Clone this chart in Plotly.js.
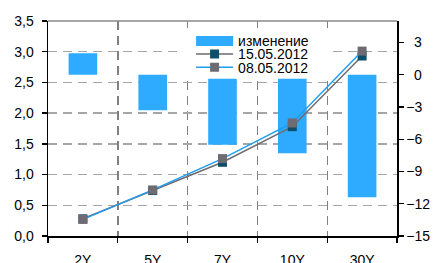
<!DOCTYPE html>
<html>
<head>
<meta charset="utf-8">
<script src="https://cdn.plot.ly/plotly-3.0.1.min.js"></script>
<style>html,body{margin:0;padding:0;background:#fff;}#chart{width:433px;height:263px;}</style>
</head>
<body>
<div id="chart"></div>
<script>
var categories = ['2Y', '5Y', '7Y', '10Y', '30Y'];
var changeBp = [2.0, -3.3, -6.5, -7.3, -11.4];
var yields1505 = [0.28, 0.74, 1.20, 1.78, 2.93];
var yields0805 = [0.27, 0.75, 1.26, 1.84, 3.01];
var rightTickVals = [-15, -12, -9, -6, -3, 0, 3];
var rightTickText = ['\u221215', '\u221212', '\u22129', '\u22126', '\u22123', '\u20070', '\u20073'];
var nameChange = 'изменение';
var name1505 = '15.05.2012';
var name0805 = '08.05.2012';

var FONT = 'Liberation Sans, Arial, Helvetica, sans-serif';
var barBlue = '#2eaaff';
var lineBlue = '#1e9ef0';
var teal = '#0b4f6c';
var gray = '#6f6b72';

var traces = [
  {type: 'bar', x: categories, y: changeBp, yaxis: 'y', width: 0.41,
   marker: {color: barBlue}, showlegend: false, hoverinfo: 'x+y'},
  {type: 'scatter', mode: 'lines', x: [null], y: [null], yaxis: 'y', name: nameChange,
   line: {color: barBlue, width: 10}, legend: 'legend'},
  {type: 'scatter', mode: 'lines+markers', x: categories, y: yields1505, yaxis: 'y2', name: name1505,
   line: {color: gray, width: 1.5}, marker: {symbol: 'square', size: 9, color: teal}, legend: 'legend2'},
  {type: 'scatter', mode: 'lines+markers', x: categories, y: yields0805, yaxis: 'y2', name: name0805,
   line: {color: lineBlue, width: 1.5}, marker: {symbol: 'square', size: 9, color: gray}, legend: 'legend3'}
];

function leg(y) {
  return {x: 0.41, xanchor: 'left', y: y, yanchor: 'middle', bgcolor: 'rgba(0,0,0,0)',
          borderwidth: 0, itemwidth: 37, font: {family: FONT, size: 14, color: '#000'}};
}

var layout = {
  width: 433, height: 263,
  margin: {l: 48, r: 36, t: 21, b: 27, pad: 0},
  paper_bgcolor: '#fff', plot_bgcolor: '#fff',
  separators: ', ',
  font: {family: FONT, size: 14, color: '#000'},
  showlegend: true,
  xaxis: {type: 'category', range: [-0.5, 4.5], tickson: 'boundaries',
    ticks: 'outside', ticklen: 5, tickcolor: '#000', tickwidth: 1.3,
    showline: true, linecolor: '#000', linewidth: 1.5,
    showgrid: true, gridcolor: '#808080', gridwidth: 1.4, griddash: '9px,6px',
    tickfont: {family: FONT, size: 14}, ticklabelstandoff: 11, fixedrange: true},
  yaxis: {side: 'right', range: [-15, 5], tickmode: 'array', tickvals: rightTickVals, ticktext: rightTickText,
    ticks: 'outside', ticklen: 5, tickcolor: '#000', tickwidth: 1.3,
    showline: true, linecolor: '#000', linewidth: 1.5,
    showgrid: false, zeroline: false, tickfont: {family: FONT, size: 14},
    ticklabelstandoff: 0, fixedrange: true},
  yaxis2: {overlaying: 'y', side: 'left', range: [0, 3.5], dtick: 0.5, tickformat: '.1f',
    ticks: 'outside', ticklen: 5, tickcolor: '#000', tickwidth: 1.3,
    showline: true, linecolor: '#000', linewidth: 1.5,
    showgrid: true, gridcolor: '#a6a6a6', gridwidth: 1.5, griddash: '9px,6px',
    zeroline: false, tickfont: {family: FONT, size: 14}, ticklabelstandoff: 5, fixedrange: true},
  legend: leg(0.905),
  legend2: leg(0.845),
  legend3: leg(0.783),
  shapes: [
    {type: 'rect', xref: 'paper', yref: 'paper', x0: 0.384, x1: 0.814, y0: 0.731, y1: 0.967,
     fillcolor: '#fff', line: {width: 0}, layer: 'above'},
    {type: 'line', xref: 'paper', yref: 'paper', x0: 0, x1: 1, y0: 1, y1: 1,
     line: {color: '#888', width: 1.5}, layer: 'above'}
  ]
};

Plotly.newPlot('chart', traces, layout, {displayModeBar: false, staticPlot: true});
</script>
</body>
</html>
